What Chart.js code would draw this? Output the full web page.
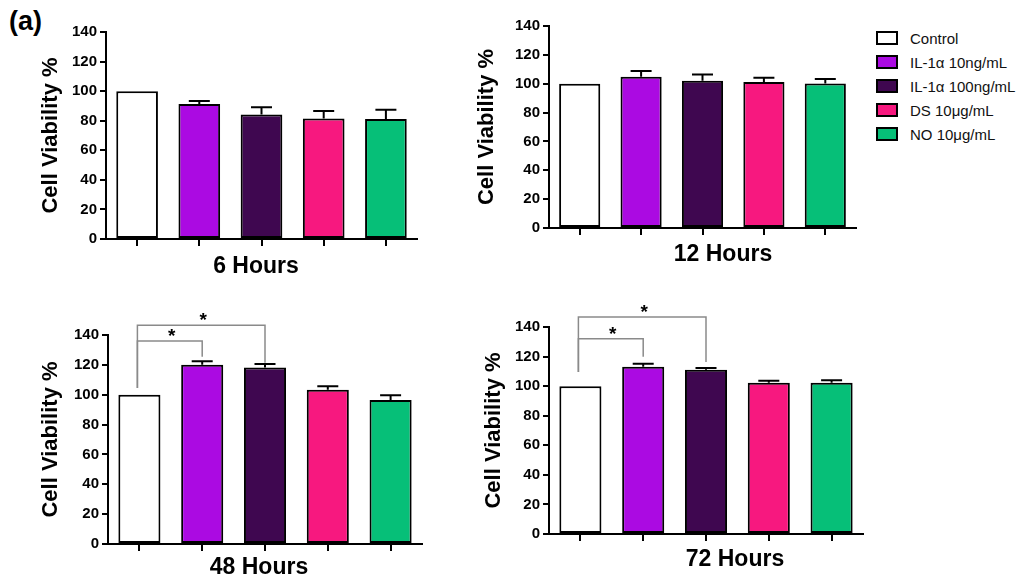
<!DOCTYPE html>
<html><head><meta charset="utf-8">
<script src="https://cdn.jsdelivr.net/npm/chart.js@4.4.0/dist/chart.umd.min.js"></script>
<style>
body{margin:0;background:#fff;width:1035px;height:584px;position:relative;overflow:hidden;font-family:"Liberation Sans",Arial,sans-serif}
canvas{position:absolute}
#lab{position:absolute;left:9px;top:8px;font-weight:bold;font-size:27px;line-height:1;color:#000}
#legend{position:absolute;left:876px;top:26px}
.li{height:24px;display:flex;align-items:center;font-size:15px;color:#111;white-space:nowrap}
.sw{width:18px;height:10px;border:2px solid #000;margin-right:12px;box-sizing:content-box}
</style></head><body>
<div id="lab">(a)</div>
<div id="legend"></div>
<canvas id="c1"></canvas>
<canvas id="c2"></canvas>
<canvas id="c3"></canvas>
<canvas id="c4"></canvas>
<script>
// ---- data ----
const groups = ['Control', 'IL-1\u03b1 10ng/mL', 'IL-1\u03b1 100ng/mL', 'DS 10\u03bcg/mL', 'NO 10\u03bcg/mL'];
const barColors = ['#ffffff', '#ab0ae2', '#3f0750', '#f7187f', '#06bf78'];
const timeLabels = ['6 Hours', '12 Hours', '48 Hours', '72 Hours'];
const yTitle = 'Cell Viability %';
const yMin = 0, yMax = 140, yStep = 20;

const mean6  = [100, 91.3, 84.2, 81.5, 81.1];
const err6   = [0, 2, 4.9, 5, 6.4];
const mean12 = [100, 104.8, 102.1, 101.2, 100.2];
const err12  = [0, 4, 4.3, 2.9, 3];
const mean48 = [100, 120, 118.2, 103.4, 96.4];
const err48  = [0, 2.5, 2.4, 2.3, 3.2];
const mean72 = [100, 113.1, 111.1, 102.3, 102.3];
const err72  = [0, 2, 1.1, 1.3, 1.7];

// significance brackets: [fromIndex, toIndex, bracketY, leftLegBottom, rightLegBottom]
const sig48 = [[0, 1, 136, 104.5, 125.5], [0, 2, 146.5, 104.5, 121.4]];
const sig72 = [[0, 1, 132, 109.6, 119.8], [0, 2, 146.7, 109.6, 116.4]];
const sigMark = '*';

// ---- legend ----
const lg = document.getElementById('legend');
groups.forEach((g, i) => {
  const d = document.createElement('div'); d.className = 'li';
  const s = document.createElement('span'); s.className = 'sw'; s.style.background = barColors[i];
  const t = document.createElement('span'); t.textContent = g;
  d.appendChild(s); d.appendChild(t); lg.appendChild(d);
});

const FONT = '"Liberation Sans", Arial, sans-serif';

const annot = {
  id: 'annot',
  afterDatasetsDraw(chart, args, o) {
    const ctx = chart.ctx, ys = chart.scales.y;
    const meta = chart.getDatasetMeta(0);
    ctx.save();
    // error bars
    ctx.strokeStyle = '#000'; ctx.lineWidth = 2;
    o.errs.forEach((e, i) => {
      if (!e) return;
      const x = meta.data[i].x;
      const y0 = ys.getPixelForValue(o.means[i]);
      const y1 = ys.getPixelForValue(o.means[i] + e);
      ctx.beginPath();
      ctx.moveTo(x, y0); ctx.lineTo(x, y1);
      ctx.moveTo(x - 10.5, y1); ctx.lineTo(x + 10.5, y1);
      ctx.stroke();
    });
    // brackets
    ctx.strokeStyle = '#8a8a8a'; ctx.lineWidth = 1.5;
    ctx.fillStyle = '#000';
    ctx.font = 'bold 19px ' + FONT; ctx.textAlign = 'center'; ctx.textBaseline = 'alphabetic';
    (o.sig || []).forEach(s => {
      const xa = meta.data[s[0]].x - 2, xb = meta.data[s[1]].x;
      const yb = ys.getPixelForValue(s[2]);
      ctx.beginPath();
      ctx.moveTo(xa, ys.getPixelForValue(s[3]));
      ctx.lineTo(xa, yb); ctx.lineTo(xb, yb);
      ctx.lineTo(xb, ys.getPixelForValue(s[4]));
      ctx.stroke();
      ctx.fillText(sigMark, (xa + xb) / 2 + 2, yb + 1);
    });
    // axis titles
    ctx.fillStyle = '#000';
    ctx.font = 'bold 23px ' + FONT;
    ctx.textBaseline = 'middle'; ctx.textAlign = 'center';
    ctx.fillText(o.xTitle, o.xTitleX, o.xTitleY);
    ctx.save();
    ctx.translate(o.yTitleX, (chart.chartArea.top + chart.chartArea.bottom) / 2);
    ctx.rotate(-Math.PI / 2);
    ctx.font = 'bold 22px ' + FONT;
    ctx.fillText(yTitle, 0, 0);
    ctx.restore();
    ctx.restore();
  }
};

function panel(id, box, area, means, errs, xTitle, xTitleC, yTitleXC, sig) {
  const cv = document.getElementById(id);
  cv.width = box.w; cv.height = box.h;
  cv.style.left = box.x + 'px'; cv.style.top = box.y + 'px';
  cv.style.width = box.w + 'px'; cv.style.height = box.h + 'px';
  new Chart(cv, {
    type: 'bar',
    data: {
      labels: groups,
      datasets: [{
        data: means,
        backgroundColor: barColors,
        borderColor: '#000',
        borderWidth: 2,
        borderSkipped: false,
        barPercentage: 0.67,
        categoryPercentage: 1
      }]
    },
    options: {
      responsive: false, animation: false,
      layout: { padding: { left: 0, top: area.t - box.y, right: box.x + box.w - area.r, bottom: 0 } },
      plugins: {
        legend: { display: false }, tooltip: { enabled: false },
        annot: { means, errs, sig, xTitle,
                 xTitleX: xTitleC[0] - box.x, xTitleY: xTitleC[1] - box.y,
                 yTitleX: yTitleXC - box.x }
      },
      scales: {
        x: {
          offset: true,
          ticks: { display: false },
          grid: { display: true, drawOnChartArea: false, drawTicks: true, tickLength: 7, offset: false, color: '#000', lineWidth: 2 },
          border: { display: true, color: '#000', width: 2 },
          afterFit: s => { s.height = box.y + box.h - area.b; }
        },
        y: {
          min: yMin, max: yMax,
          ticks: { stepSize: yStep, color: '#000', padding: 3, font: { family: FONT, size: 15, weight: 'bold' } },
          grid: { drawOnChartArea: false, drawTicks: true, tickLength: 6, color: '#000', lineWidth: 2 },
          border: { display: true, color: '#000', width: 2 },
          afterFit: s => { s.width = area.l - box.x; }
        }
      }
    },
    plugins: [annot]
  });
}

panel('c1', {x:0, y:0, w:470, h:290}, {l:106, r:417, t:32, b:239}, mean6, err6, timeLabels[0], [256, 267], 51, null);
panel('c2', {x:470, y:0, w:400, h:290}, {l:549, r:856, t:26, b:228}, mean12, err12, timeLabels[1], [723, 255], 487, null);
panel('c3', {x:0, y:290, w:470, h:294}, {l:108, r:422, t:335, b:544}, mean48, err48, timeLabels[2], [259, 568], 51, sig48);
panel('c4', {x:470, y:290, w:400, h:294}, {l:549, r:863, t:327, b:534}, mean72, err72, timeLabels[3], [735, 560], 494, sig72);
</script>
</body></html>
